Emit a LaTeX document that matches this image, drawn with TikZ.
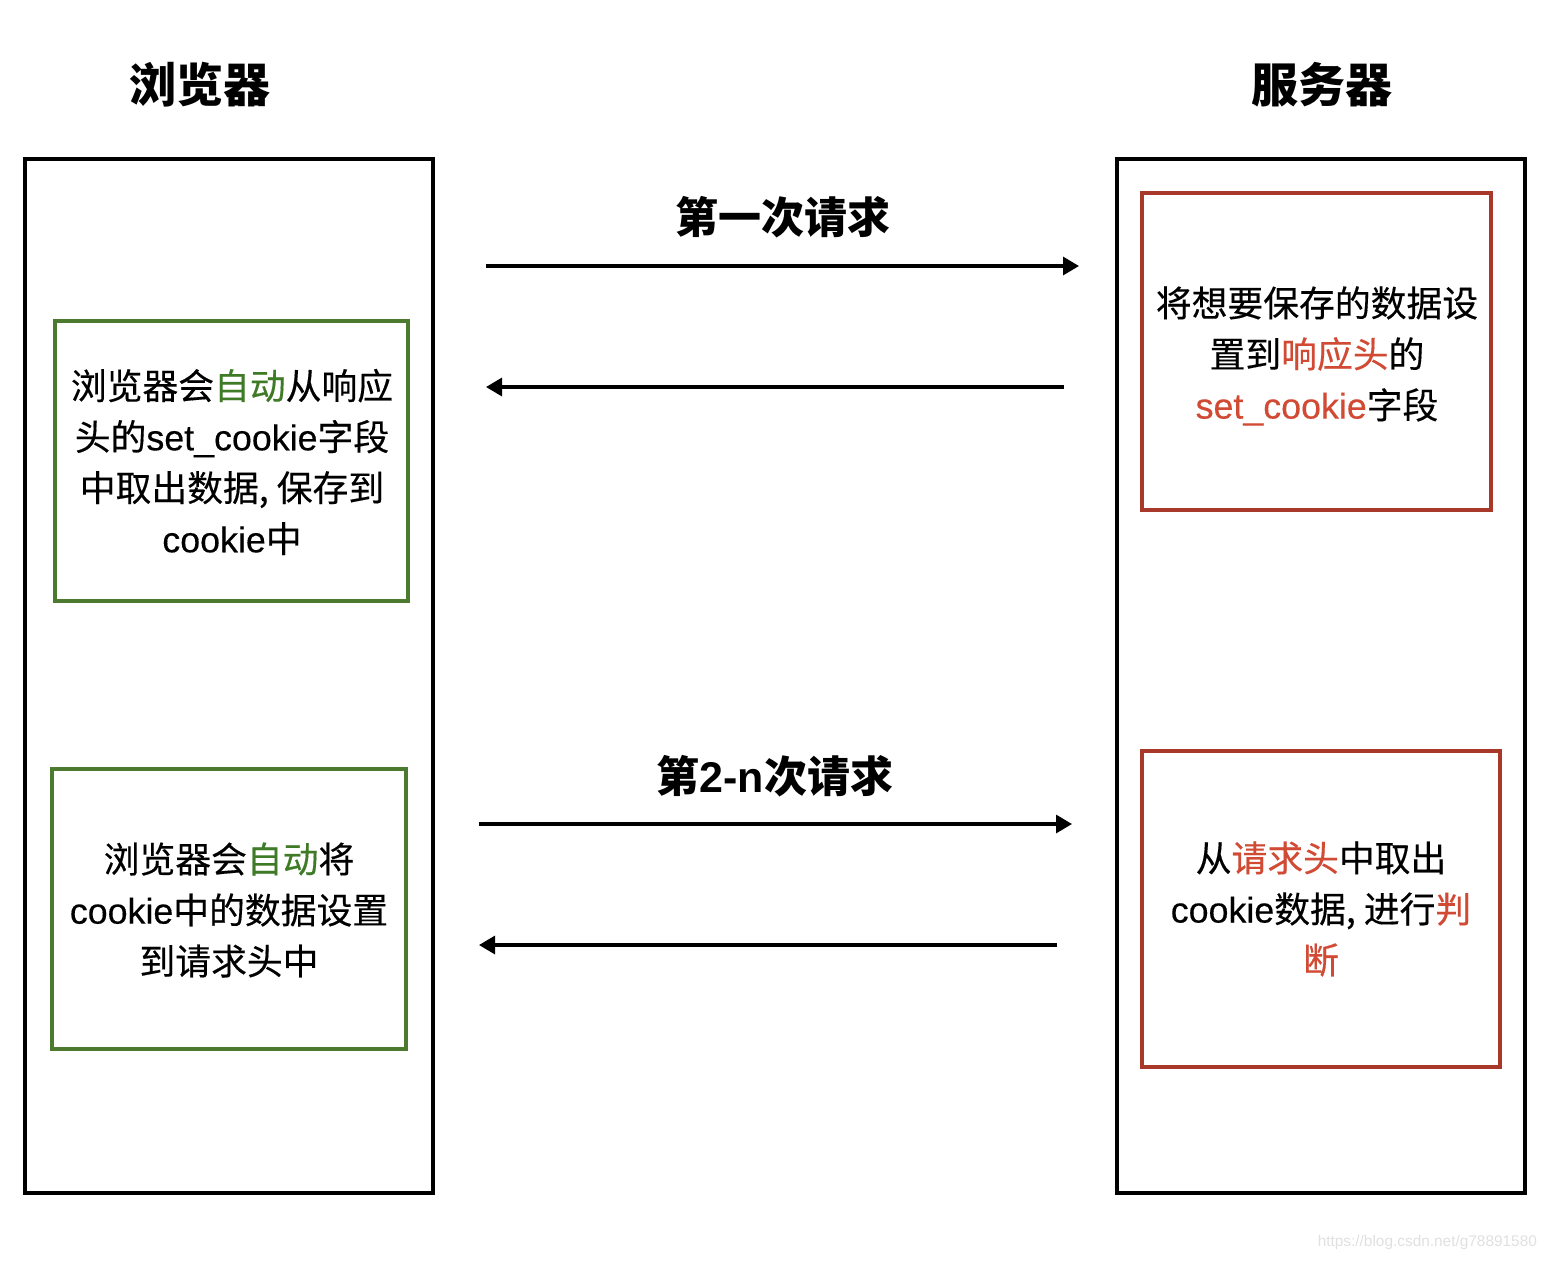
\documentclass[tikz,border=0pt]{standalone}
\usepackage{fontspec}
\setmainfont{Noto Sans CJK SC}
\newfontfamily\bodyf[FakeBold=0.35]{Noto Sans CJK SC}
\newfontfamily\latf[FakeBold=0.35]{Liberation Sans}
\newfontfamily\wmf{Liberation Sans}
\usetikzlibrary{arrows.meta}
\definecolor{gborder}{HTML}{4C7A2E}
\definecolor{gtext}{HTML}{3F7A27}
\definecolor{rborder}{HTML}{A8382A}
\definecolor{rtext}{HTML}{D04A34}
\newcommand{\lt}[1]{{\latf #1}}
\tikzset{
  bigbox/.style={draw=black, line width=2pt, minimum width=204pt, minimum height=517pt, inner sep=0pt},
  bodytext/.style={align=center, inner sep=0pt, font=\bodyf\fontsize{17.9pt}{25.5pt}\selectfont},
  greenbox/.style={draw=gborder, line width=1.6pt, inner sep=0pt},
  redbox/.style={draw=rborder, line width=1.6pt, inner sep=0pt},
  title/.style={font=\fontsize{23.5pt}{28pt}\selectfont\bfseries},
  msg/.style={font=\fontsize{21.5pt}{26pt}\selectfont\bfseries},
  flow/.style={line width=1.6pt, -{Triangle[length=8pt,width=9pt]}},
}
\begin{document}
\begin{tikzpicture}[x=0.5pt,y=-0.5pt]
\useasboundingbox (0,0) rectangle (1552,1260);
% titles
\node[title] (tb) at (200,85) {浏览器};
\node[title] (ts) at (1322,85) {服务器};
% big boxes
\node[bigbox] (browser) at (229,676) {};
\node[bigbox] (server) at (1321,676) {};
% browser boxes
\node[greenbox, minimum width=176.5pt, minimum height=140pt] (g1) at (231.5,461) {};
\node[bodytext] (g1t) at (232,462)
  {浏览器会\textcolor{gtext}{自动}从响应\\头的\lt{set\_cookie}字段\\中取出数据, 保存到\\\lt{cookie}中};
\node[greenbox, minimum width=177pt, minimum height=140pt] (g2) at (229,909) {};
\node[bodytext] (g2t) at (229,910)
  {浏览器会\textcolor{gtext}{自动}将\\\lt{cookie}中的数据设置\\到请求头中};
% server boxes
\node[redbox, minimum width=174.5pt, minimum height=158.5pt] (r1) at (1316.5,351.5) {};
\node[bodytext] (r1t) at (1317,356)
  {将想要保存的数据设\\置到\textcolor{rtext}{响应头}的\\\textcolor{rtext}{\lt{set\_cookie}}字段};
\node[redbox, minimum width=179pt, minimum height=158pt] (r2) at (1321,909) {};
\node[bodytext] (r2t) at (1321,909)
  {从\textcolor{rtext}{请求头}中取出\\\lt{cookie}数据, 进行\textcolor{rtext}{判}\\\textcolor{rtext}{断}};
% messages
\node[msg] (m1) at (783,217) {第一次请求};
\node[msg] (m2) at (775,776) {第{\wmf\bfseries 2-n}次请求};
\coordinate (a1s) at (486,266);
\coordinate (a1e) at (1079,266);
\coordinate (a2s) at (1064,387);
\coordinate (a2e) at (486,387);
\coordinate (a3s) at (479,824);
\coordinate (a3e) at (1072,824);
\coordinate (a4s) at (1057,945);
\coordinate (a4e) at (479,945);
\draw[flow] (a1s) -- (a1e);
\draw[flow] (a2s) -- (a2e);
\draw[flow] (a3s) -- (a3e);
\draw[flow] (a4s) -- (a4e);
% watermark
\node[text=black!12, font=\wmf\fontsize{7.7pt}{9pt}\selectfont, anchor=east] (wm) at (1544,1242) {https://blog.csdn.net/g78891580};
\end{tikzpicture}
\end{document}
